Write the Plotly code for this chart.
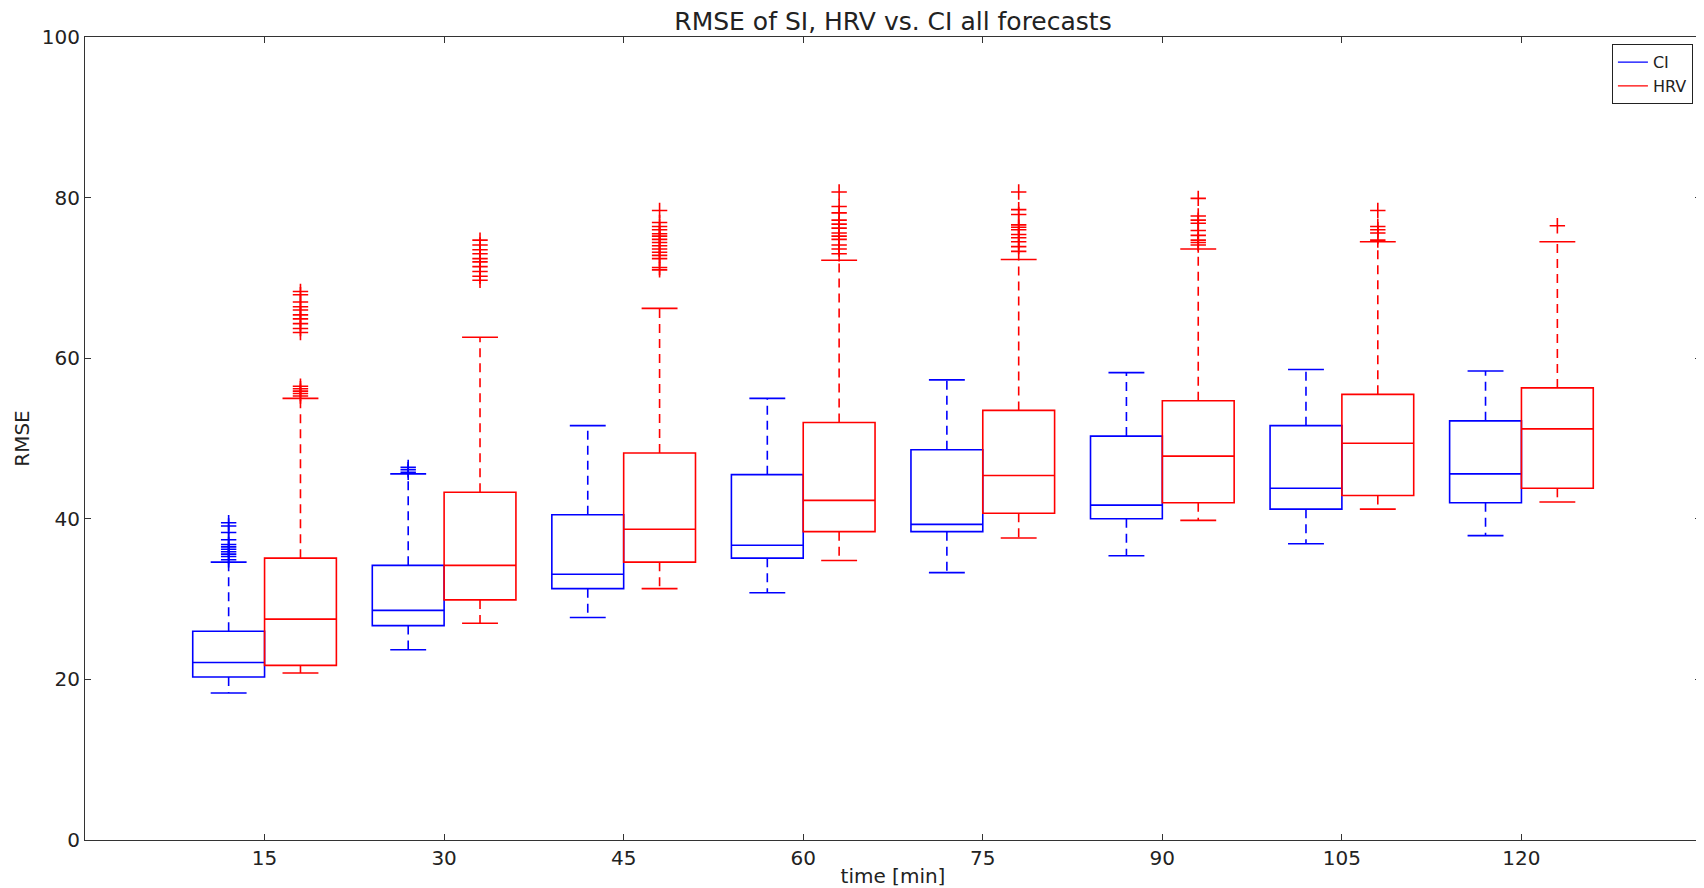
import plotly.graph_objects as go

# ---------------- data ----------------
times = [15, 30, 45, 60, 75, 90, 105, 120]

ci_lower = [18.3, 23.7, 27.7, 30.8, 33.3, 35.4, 36.9, 37.9]
ci_q1 = [20.3, 26.7, 31.3, 35.1, 38.4, 40.0, 41.2, 42.0]
ci_med = [22.1, 28.6, 33.1, 36.7, 39.3, 41.7, 43.8, 45.6]
ci_q3 = [26.0, 34.2, 40.5, 45.5, 48.6, 50.3, 51.6, 52.2]
ci_upper = [34.6, 45.6, 51.6, 55.0, 57.3, 58.2, 58.6, 58.4]
ci_outliers = [
    [34.9, 35.3, 35.6, 35.9, 36.2, 36.5, 36.8, 37.4, 38.3, 39.1, 39.5],
    [45.8, 46.1, 46.4],
    [], [], [], [], [], [],
]

hrv_lower = [20.8, 27.0, 31.3, 34.8, 37.6, 39.8, 41.2, 42.1]
hrv_q1 = [21.75, 29.9, 34.6, 38.4, 40.7, 42.0, 42.9, 43.8]
hrv_med = [27.5, 34.2, 38.7, 42.3, 45.4, 47.8, 49.4, 51.2]
hrv_q3 = [35.1, 43.3, 48.2, 52.0, 53.5, 54.7, 55.5, 56.3]
hrv_upper = [55.0, 62.6, 66.2, 72.2, 72.3, 73.6, 74.5, 74.5]
hrv_outliers = [
    [55.3, 55.6, 55.9, 56.2, 56.5, 63.2, 63.7, 64.3, 64.9, 65.4, 66.0, 66.4, 67.0, 67.9, 68.3],
    [69.7, 70.2, 70.8, 71.4, 72.0, 72.4, 73.0, 73.5, 74.1, 74.7],
    [71.0, 71.3, 72.4, 72.8, 73.2, 73.6, 74.0, 74.4, 74.8, 75.2, 75.5, 76.0, 76.4, 76.9, 78.4],
    [73.0, 73.6, 74.1, 74.8, 75.2, 75.6, 76.2, 76.7, 77.2, 78.1, 78.9, 80.7],
    [73.3, 73.9, 74.5, 75.0, 75.4, 76.0, 76.3, 76.6, 77.9, 78.5, 80.7],
    [74.1, 74.4, 74.7, 75.3, 75.9, 76.8, 77.2, 77.7, 79.9],
    [74.7, 75.6, 76.0, 76.4, 78.4],
    [76.5],
]

x_ticks = [15, 30, 45, 60, 75, 90, 105, 120]
y_ticks = [0, 20, 40, 60, 80, 100]

# ---------------- styling ----------------
BLUE = "#0000ff"
RED = "#ff0000"
OFFSET = 3.0
BOX_W = 6.0
CAP_HALF = 1.5
FONT = "DejaVu Sans"
TXT = "#222222"

# The page body has an 8px default margin; size the figure so the plot
# lands where the reference has it in the 1704x888 window.
FIG_W, FIG_H = 1696, 880

fig = go.Figure()


def add_series(name, color, shift, lo, q1, med, q3, hi, outl):
    xs = [t + shift for t in times]
    fig.add_trace(go.Box(
        x=xs, q1=q1, median=med, q3=q3, lowerfence=q1, upperfence=q3,
        width=BOX_W, whiskerwidth=0, boxpoints=False,
        line=dict(color=color, width=1.6), fillcolor="rgba(0,0,0,0)",
        showlegend=False, hoverinfo="skip", name=name,
    ))
    # dashed whiskers
    wx, wy = [], []
    for x, a, b, c, d in zip(xs, lo, q1, q3, hi):
        wx += [x, x, None, x, x, None]
        wy += [c, d, None, b, a, None]
    fig.add_trace(go.Scatter(x=wx, y=wy, mode="lines",
                             line=dict(color=color, width=1.6, dash="9px,6px"),
                             showlegend=False, hoverinfo="skip"))
    # caps
    cx, cy = [], []
    for x, a, d in zip(xs, lo, hi):
        cx += [x - CAP_HALF, x + CAP_HALF, None, x - CAP_HALF, x + CAP_HALF, None]
        cy += [d, d, None, a, a, None]
    fig.add_trace(go.Scatter(x=cx, y=cy, mode="lines",
                             line=dict(color=color, width=1.6),
                             showlegend=False, hoverinfo="skip"))
    # outliers
    ox, oy = [], []
    for x, vals in zip(xs, outl):
        ox += [x] * len(vals)
        oy += vals
    fig.add_trace(go.Scatter(x=ox, y=oy, mode="markers",
                             marker=dict(symbol="cross-thin", size=11,
                                         line=dict(color=color, width=1.6)),
                             showlegend=False, hoverinfo="skip"))
    # legend entry
    fig.add_trace(go.Scatter(x=[None], y=[None], mode="lines",
                             line=dict(color=color, width=1.2), name=name))


add_series("CI", BLUE, -OFFSET, ci_lower, ci_q1, ci_med, ci_q3, ci_upper, ci_outliers)
add_series("HRV", RED, OFFSET, hrv_lower, hrv_q1, hrv_med, hrv_q3, hrv_upper, hrv_outliers)

axis_common = dict(
    showline=True, linecolor="#333333", linewidth=1, mirror="allticks",
    ticks="inside", ticklen=6, tickcolor="#333333", showgrid=False, zeroline=False,
    tickfont=dict(family=FONT, size=20, color=TXT), automargin=False,
)

fig.update_layout(
    width=FIG_W, height=FIG_H,
    margin=dict(l=77, r=3, t=29, b=48, autoexpand=False),
    plot_bgcolor="white", paper_bgcolor="white",
    font=dict(family=FONT, color=TXT),
    boxmode="overlay",
    title=dict(text="RMSE of SI, HRV vs. CI all forecasts", x=0.5, xref="paper",
               y=1 - 13.5 / FIG_H, yref="container", yanchor="middle",
               font=dict(family=FONT, size=25, color=TXT)),
    xaxis=dict(range=[0, 135], tickvals=x_ticks,
               title=dict(text="time [min]", standoff=0,
                          font=dict(family=FONT, size=20)),
               **axis_common),
    yaxis=dict(range=[0, 100], tickvals=y_ticks,
               title=dict(text="RMSE", standoff=6,
                          font=dict(family=FONT, size=20)),
               **axis_common),
    legend=dict(x=0.995, y=0.991, xanchor="right", yanchor="top",
                bordercolor=TXT, borderwidth=1, bgcolor="white",
                font=dict(family=FONT, size=16), tracegroupgap=0,
                itemwidth=30),
)

fig.write_html("out.html")
